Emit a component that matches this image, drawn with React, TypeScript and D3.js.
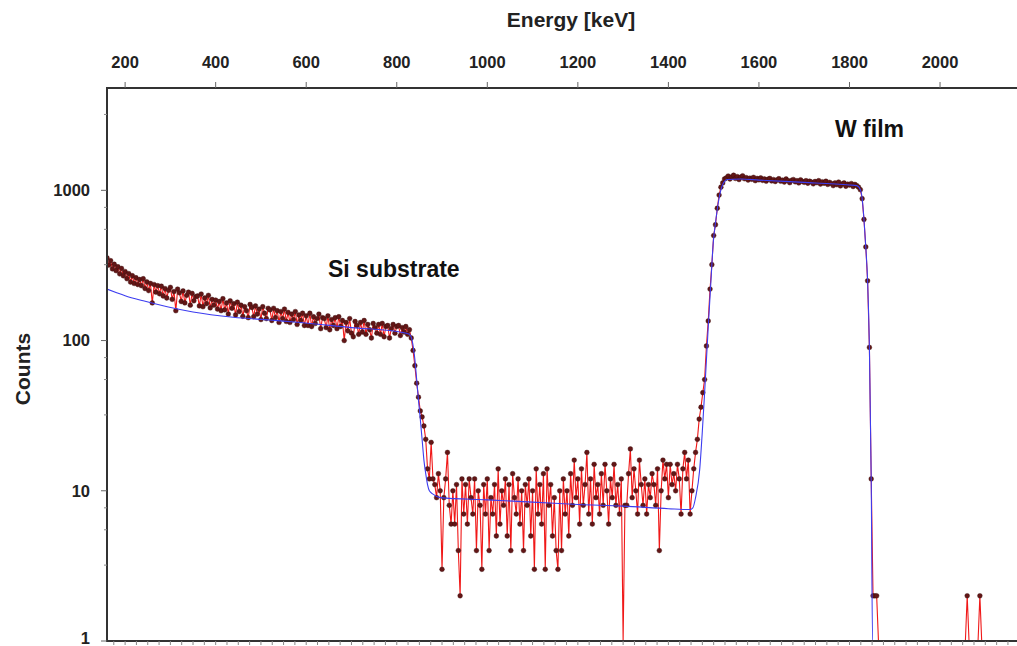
import React, { useEffect, useRef } from 'react';
import * as d3 from 'd3';

// channel calibration: energy of channel i = channelStart + i * channelWidth (keV)
const channelStart = 160;
const channelWidth = 4;

const siCounts = [
  355, 318, 340, 300, 322, 292, 310, 278, 302, 270,
  288, 258, 279, 245, 270, 240, 262, 236, 255, 232,
  258, 222, 246, 215, 240, 178, 236, 210, 232, 205,
  230, 198, 222, 192, 216, 226, 188, 212, 158, 220,
  208, 182, 214, 178, 200, 210, 172, 206, 184, 196,
  198, 170, 204, 168, 192, 176, 200, 165, 188, 172,
  186, 162, 182, 158, 190, 160, 178, 150, 184, 164,
  176, 148, 180, 156, 172, 145, 168, 158, 142, 174,
  166, 144, 170, 150, 162, 138, 168, 152, 140, 164,
  160, 136, 164, 142, 158, 132, 156, 140, 162, 134,
  154, 132, 150, 138, 156, 128, 148, 136, 152, 126,
  146, 126, 152, 124, 144, 130, 140, 150, 120, 142,
  140, 122, 146, 118, 138, 126, 142, 120, 144, 124,
  136, 100, 132, 116, 140, 112, 106, 134, 126, 110,
  132, 114, 136, 110, 128, 118, 104, 130, 122, 112,
  128, 110, 130, 106, 124, 126, 104, 120, 128, 112,
  124, 126, 108, 122, 114, 124, 110, 118,
];
const siEdgeCounts = [104, 86, 68, 52, 42, 34, 31, 27, 22, 14, 12, 21, 12];
const gapCounts = [
  11, 9, 13, 10, 3, 9, 12, 18, 8, 6,
  10, 6, 11, 4, 2, 12, 7, 11, 6, 12,
  9, 7, 12, 4, 10, 8, 3, 11, 7, 12,
  4, 9, 7, 11, 5, 14, 6, 10, 8, 12,
  5, 11, 4, 13, 9, 7, 12, 6, 10, 4,
  11, 8, 12, 5, 10, 3, 14, 7, 11, 6,
  13, 3, 14, 8, 11, 5, 9, 4, 3, 10,
  4, 12, 7, 10, 5, 13, 8, 16, 9, 12,
  6, 14, 8, 11, 18, 7, 12, 6, 15, 9,
  11, 7, 13, 8, 15, 10, 6, 12, 9, 15,
  8, 11, 7, 12, 0, 8, 8, 13, 19, 9,
  14, 10, 7, 16, 11, 8, 12, 7, 11, 9,
  13, 11, 8, 14, 4, 10, 16, 12, 15, 9,
  15, 11, 13, 10, 15, 12, 7, 14, 18, 12,
  16,
];
const wRiseCounts = [
  7, 10, 14, 18, 22, 30, 36, 45, 55, 92,
  135, 220, 320, 500, 590, 760, 930, 1050, 1120, 1190,
];
const wCounts = [
  1210, 1245, 1190, 1230, 1260, 1200, 1235, 1180, 1225, 1250,
  1195, 1215, 1170, 1205, 1185, 1220, 1160, 1200, 1175, 1210,
  1165, 1190, 1150, 1185, 1200, 1155, 1180, 1145, 1175, 1195,
  1150, 1170, 1135, 1190, 1160, 1125, 1165, 1180, 1140, 1160,
  1120, 1175, 1145, 1130, 1160, 1115, 1150, 1135, 1105, 1145,
  1125, 1160, 1100, 1140, 1115, 1150, 1095, 1130, 1110, 1075,
  1120, 1090, 1135, 1070, 1105, 1120, 1065, 1100, 1085, 1110,
  1060, 1095, 1075, 1050, 1010,
];
const wEdgeCounts = [880, 640, 420, 250, 90, 12, 2];
const tailCounts = [
  2, 2, 0, 0, 0, 0, 0, 0, 0, 0,
  0, 0, 0, 0, 0, 0, 0, 0, 0, 0,
  0, 0, 0, 0, 0, 0, 0, 0, 0, 0,
  0, 0, 0, 0, 0, 0, 0, 0, 0, 0,
  0, 0, 0, 0, 0, 0, 0, 0, 0, 0,
  0, 2, 0, 0, 0, 0, 0, 0, 2, 0,
  0, 0, 0, 0, 0, 0, 0, 0, 0, 0,
  0, 0, 0, 0, 0, 0, 0, 0, 0,
];

// simulated fit (blue)
const fitEnergy = [
  160, 180, 200, 240, 293, 350, 439, 520, 587, 700, 807, 828, 834, 840, 844, 848,
  852, 856, 860, 864, 868, 872, 880, 896, 1000, 1100, 1200, 1300, 1400, 1447,
  1454, 1460, 1469, 1475, 1480, 1488, 1494, 1499, 1505, 1510, 1515, 1521, 1530,
  1560, 1600, 1700, 1800, 1816, 1824, 1828, 1832, 1836, 1840, 1844, 1848, 1851,
  1852, 2170,
];
const fitCounts = [
  220, 209, 199, 184, 168, 155, 143, 137, 132, 122, 114, 110, 100, 75, 55, 40,
  30, 22, 16, 13, 11, 10, 9.5, 9, 8.7, 8.4, 8.1, 7.9, 7.6, 7.5,
  7.7, 9, 13.7, 25, 45, 123, 250, 445, 640, 820, 980, 1110, 1180,
  1190, 1170, 1130, 1085, 1075, 1010, 880, 640, 420, 250, 90, 12, 1,
  0, 0,
];

const energyTicks = [200, 400, 600, 800, 1000, 1200, 1400, 1600, 1800, 2000];
const countTicks = [1, 10, 100, 1000];
const minorFactors = [3.2, 5.5, 7.7];

const W = 1017;
const H = 646;
const plot = { left: 107, right: 1017, top: 88, bottom: 641 };
const FONT = '"Liberation Sans", Arial, sans-serif';

const App = () => {
  const ref = useRef(null);

  useEffect(() => {
    const svg = d3.select(ref.current);
    svg.selectAll('*').remove();

    const counts = [
      ...siCounts, ...siEdgeCounts, ...gapCounts, ...wRiseCounts,
      ...wCounts, ...wEdgeCounts, ...tailCounts,
    ];
    const data = counts.map((c, i) => ({ e: channelStart + i * channelWidth, c }));
    const fit = fitEnergy.map((e, i) => ({ e, c: fitCounts[i] }));

    const x = d3.scaleLinear().domain([160, 2170]).range([plot.left, plot.right]);
    const y = d3.scaleLog().domain([1, 4800]).range([plot.bottom, plot.top]);
    const yc = (c) => (c >= 1 ? y(c) : plot.bottom);

    svg.append('defs').append('clipPath').attr('id', 'plotclip')
      .append('rect')
      .attr('x', plot.left).attr('y', plot.top)
      .attr('width', plot.right - plot.left).attr('height', plot.bottom - plot.top + 2);

    const g = svg.append('g').attr('clip-path', 'url(#plotclip)');

    const line = d3.line().x(d => x(d.e)).y(d => yc(d.c));

    // measured spectrum
    g.append('path')
      .datum(data)
      .attr('d', line)
      .attr('fill', 'none')
      .attr('stroke', '#f01818')
      .attr('stroke-width', 1.1);

    g.selectAll('circle.pt')
      .data(data.filter(d => d.c > 0))
      .enter().append('circle')
      .attr('class', 'pt')
      .attr('cx', d => x(d.e))
      .attr('cy', d => y(d.c))
      .attr('r', 2.4)
      .attr('fill', '#621616')
      .attr('stroke', '#3a0c0c')
      .attr('stroke-width', 0.4);

    // fit
    g.append('path')
      .datum(fit)
      .attr('d', d3.line().x(d => x(d.e)).y(d => yc(d.c)).curve(d3.curveMonotoneX))
      .attr('fill', 'none')
      .attr('stroke', '#3c3cf0')
      .attr('stroke-width', 1.1);

    const axisColor = '#333';

    // frame lines
    svg.append('line')
      .attr('x1', plot.left).attr('x2', plot.right)
      .attr('y1', plot.top).attr('y2', plot.top)
      .attr('stroke', axisColor).attr('stroke-width', 2);
    svg.append('line')
      .attr('x1', plot.left).attr('x2', plot.right)
      .attr('y1', plot.bottom).attr('y2', plot.bottom)
      .attr('stroke', axisColor).attr('stroke-width', 2);
    svg.append('line')
      .attr('x1', plot.left).attr('x2', plot.left)
      .attr('y1', plot.top - 1).attr('y2', plot.bottom + 1)
      .attr('stroke', axisColor).attr('stroke-width', 2);

    // top energy axis
    svg.selectAll('line.xt')
      .data(energyTicks)
      .enter().append('line')
      .attr('x1', d => x(d)).attr('x2', d => x(d))
      .attr('y1', plot.top - 6).attr('y2', plot.top)
      .attr('stroke', '#666').attr('stroke-width', 1);
    svg.selectAll('text.xl')
      .data(energyTicks)
      .enter().append('text')
      .attr('x', d => x(d)).attr('y', 68)
      .attr('text-anchor', 'middle')
      .attr('font-family', FONT).attr('font-weight', 'bold').attr('font-size', 16.5)
      .attr('fill', '#222')
      .text(d => d);

    // bottom minor ticks every 25 keV
    svg.selectAll('line.xm')
      .data(d3.range(175, 2170, 25))
      .enter().append('line')
      .attr('x1', d => x(d)).attr('x2', d => x(d))
      .attr('y1', plot.bottom).attr('y2', plot.bottom + 4)
      .attr('stroke', '#888').attr('stroke-width', 1);

    svg.append('text')
      .attr('x', 571).attr('y', 27)
      .attr('text-anchor', 'middle')
      .attr('font-family', FONT).attr('font-weight', 'bold').attr('font-size', 21)
      .attr('fill', '#222')
      .text('Energy [keV]');

    // left counts axis
    svg.selectAll('line.yt')
      .data(countTicks)
      .enter().append('line')
      .attr('x1', plot.left - 6).attr('x2', plot.left)
      .attr('y1', d => y(d)).attr('y2', d => y(d))
      .attr('stroke', '#666').attr('stroke-width', 1);
    const minor = countTicks.flatMap(d => minorFactors.map(f => d * f)).filter(v => v < 4800);
    svg.selectAll('line.ym')
      .data(minor)
      .enter().append('line')
      .attr('x1', plot.left - 3).attr('x2', plot.left)
      .attr('y1', d => y(d)).attr('y2', d => y(d))
      .attr('stroke', '#888').attr('stroke-width', 1);
    svg.selectAll('text.yl')
      .data(countTicks)
      .enter().append('text')
      .attr('x', 90).attr('y', d => Math.min(y(d), plot.bottom - 3))
      .attr('dy', '0.36em')
      .attr('text-anchor', 'end')
      .attr('font-family', FONT).attr('font-weight', 'bold').attr('font-size', 16.5)
      .attr('fill', '#222')
      .text(d => d);

    svg.append('text')
      .attr('transform', 'translate(30,369) rotate(-90)')
      .attr('text-anchor', 'middle')
      .attr('font-family', FONT).attr('font-weight', 'bold').attr('font-size', 21)
      .attr('fill', '#222')
      .text('Counts');

    // annotations
    svg.append('text')
      .attr('x', 328).attr('y', 277)
      .attr('font-family', FONT).attr('font-weight', 'bold').attr('font-size', 23)
      .attr('fill', '#111')
      .text('Si substrate');
    svg.append('text')
      .attr('x', 835).attr('y', 137)
      .attr('font-family', FONT).attr('font-weight', 'bold').attr('font-size', 23)
      .attr('fill', '#111')
      .text('W film');
  }, []);

  return (
    <svg
      ref={ref}
      width={W}
      height={H}
      style={{ position: 'absolute', left: 0, top: 0, background: '#fff' }}
    />
  );
};

export default App;
